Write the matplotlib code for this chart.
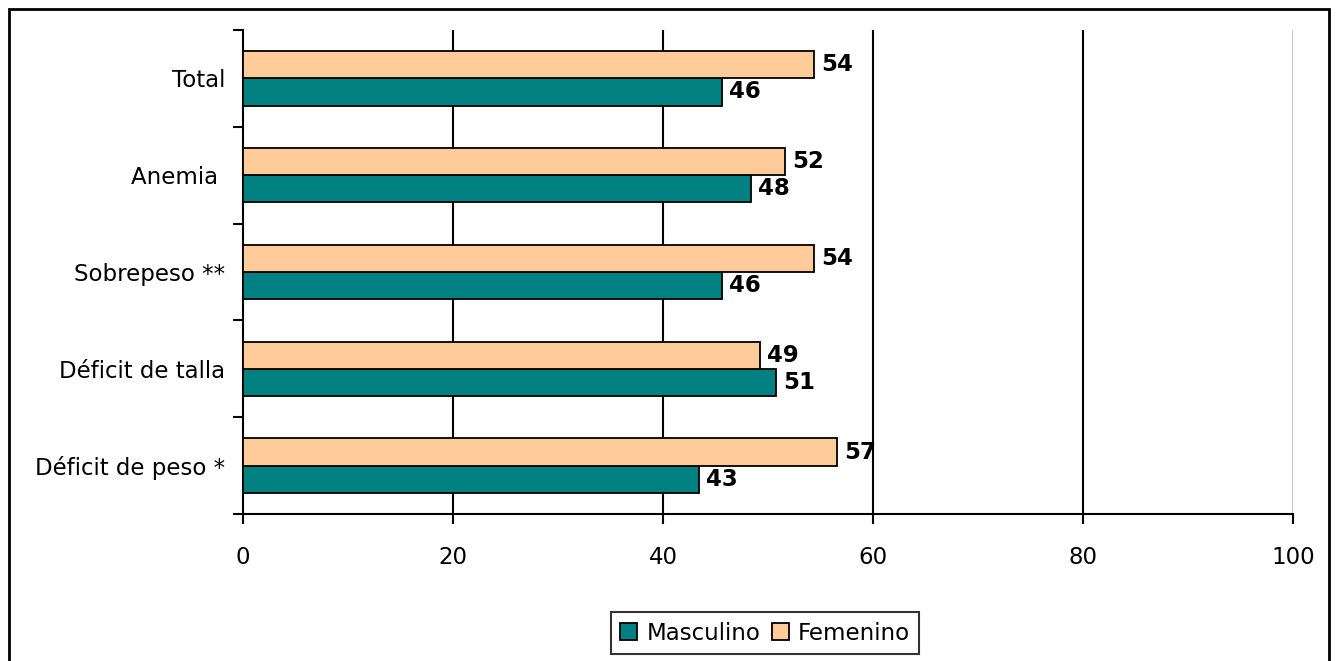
import numpy as np
import matplotlib.pyplot as plt
from matplotlib.patches import Rectangle

categorias = ["Déficit de peso *", "Déficit de talla", "Sobrepeso **", "Anemia ", "Total"]
masculino = [43.4, 50.8, 45.6, 48.4, 45.6]
femenino = [56.6, 49.2, 54.4, 51.6, 54.4]
xticks = [0, 20, 40, 60, 80, 100]

color_masc = "#008080"
color_fem = "#FFCC99"

plt.rcParams["font.family"] = "DejaVu Sans"

fig = plt.figure(figsize=(13.37, 6.61), dpi=100)
ax = fig.add_axes([243 / 1337, 1 - 514 / 661, 1050 / 1337, 484 / 661])

y = np.arange(len(categorias))
h = 0.28
ax.barh(y - h / 2, masculino, height=h, color=color_masc, edgecolor="black", linewidth=1.3,
        label="Masculino", zorder=3)
ax.barh(y + h / 2, femenino, height=h, color=color_fem, edgecolor="black", linewidth=1.3,
        label="Femenino", zorder=3)

for yi, m, f in zip(y, masculino, femenino):
    ax.annotate(f"{m:.0f}", (m, yi - h / 2), xytext=(5, 0), textcoords="offset points",
                va="center", ha="left", fontsize=16.5, fontweight="bold", zorder=4)
    ax.annotate(f"{f:.0f}", (f, yi + h / 2), xytext=(5, 0), textcoords="offset points",
                va="center", ha="left", fontsize=16.5, fontweight="bold", zorder=4)

ax.set_xlim(0, 100)
ax.set_ylim(-0.5, len(categorias) - 0.5)

# vertical grid, the last line is drawn light
for xv in xticks[1:]:
    ax.axvline(xv, color="#CCCCCC" if xv == 100 else "black", linewidth=1.5, zorder=1)

ax.set_xticks(xticks)
ax.set_xticklabels([str(v) for v in xticks], fontsize=16.5)
ax.tick_params(axis="x", direction="out", length=7, width=1.5, pad=16)

ax.set_yticks(y)
ax.set_yticklabels(categorias, fontsize=16.5)
ax.tick_params(axis="y", which="major", length=0, pad=13)
ax.set_yticks(np.arange(-0.5, len(categorias)), minor=True)
ax.tick_params(axis="y", which="minor", direction="out", length=7, width=1.5)

for side in ["top", "right"]:
    ax.spines[side].set_visible(False)
ax.spines["left"].set_linewidth(1.5)
ax.spines["bottom"].set_linewidth(1.5)

leg = fig.legend(loc="center", bbox_to_anchor=(765 / 1337, 1 - 633 / 661), ncol=2,
                 fontsize=16.5, frameon=True, fancybox=False, edgecolor="black",
                 handlelength=0.75, handleheight=0.75, handletextpad=0.4, columnspacing=0.5,
                 borderpad=0.4, borderaxespad=0)
leg.get_frame().set_linewidth(1.5)

# outer border of the chart area
fig.add_artist(Rectangle((9 / 1337, -0.05), 1320 / 1337, 1.05 - 9 / 661,
                         transform=fig.transFigure, fill=False, edgecolor="black",
                         linewidth=2))

fig.savefig("out.png", dpi=100)
